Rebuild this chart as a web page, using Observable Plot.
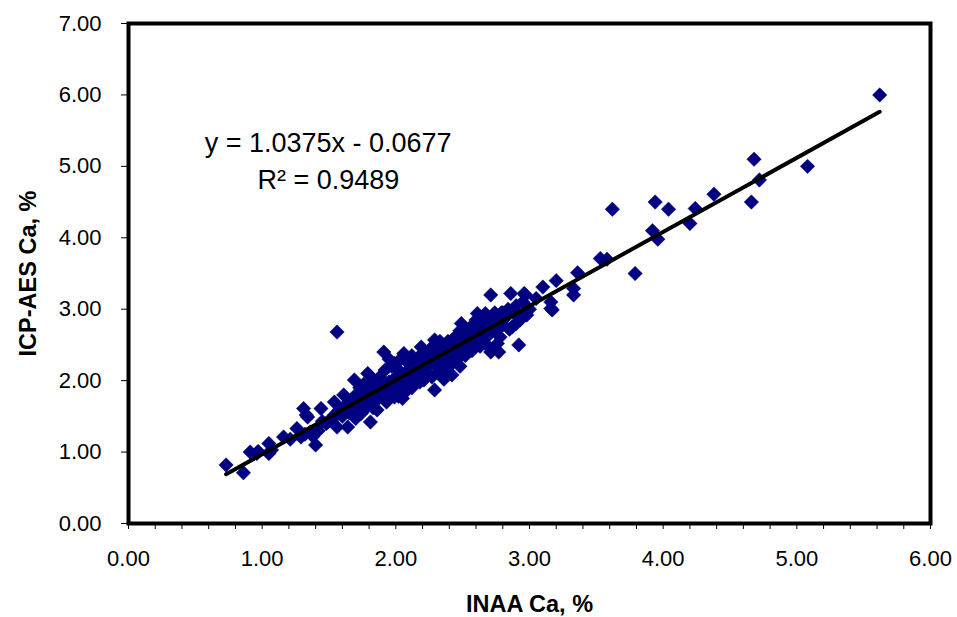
<!DOCTYPE html>
<html>
<head>
<meta charset="utf-8">
<script src="https://cdn.jsdelivr.net/npm/d3@7"></script>
<script src="https://cdn.jsdelivr.net/npm/@observablehq/plot@0.6"></script>
<style>
  html, body { margin: 0; padding: 0; background: white; }
  #chart { width: 957px; height: 617px; }
</style>
</head>
<body>
<div id="chart"></div>
<script>
// INAA Ca, % (x) and ICP-AES Ca, % (y)
const inaaCa = [
  0.73,0.86,0.91,0.96,0.97,1.05,1.05,1.07,1.16,1.21,1.26,1.29,1.31,1.33,1.34,1.32,1.36,1.38,1.40,1.42,1.44,1.45,1.48,1.49,
  1.52,1.54,1.54,1.56,1.56,1.58,1.60,1.61,1.62,1.64,1.65,1.66,1.68,1.69,1.70,1.70,1.72,1.73,1.74,1.75,1.77,1.78,1.79,1.80,
  1.81,1.82,1.83,1.84,1.85,1.86,1.87,1.88,1.89,1.90,1.91,1.92,1.93,1.94,1.95,1.96,1.97,1.98,1.99,1.99,
  2.00,2.01,2.02,2.03,2.04,2.05,2.06,2.06,2.07,2.08,2.09,2.10,2.11,2.12,2.13,2.14,2.15,2.16,2.17,2.18,2.19,2.20,
  2.21,2.22,2.23,2.24,2.25,2.26,2.27,2.28,2.29,2.29,2.30,2.31,2.32,2.33,2.34,2.35,2.36,2.37,2.38,2.39,2.40,2.41,
  2.42,2.43,2.44,2.45,2.46,2.47,2.48,2.49,2.50,
  2.51,2.52,2.53,2.54,2.55,2.56,2.57,2.58,2.59,2.60,2.61,2.62,2.63,2.64,2.65,2.66,2.67,2.67,2.68,2.69,2.70,2.71,
  2.71,2.71,2.72,2.73,2.74,2.75,2.76,2.77,2.78,2.79,2.80,2.82,2.84,2.85,2.86,2.87,2.88,2.90,2.92,2.93,2.95,2.96,
  2.96,2.97,2.98,3.00,
  3.05,3.10,3.16,3.17,3.16,3.20,3.33,3.33,3.36,3.53,3.58,3.62,3.79,3.92,3.94,3.96,4.04,4.20,4.24,4.38,4.66,4.68,
  4.72,5.08,5.62,
  1.76,1.83,1.95,2.02,2.08,2.12,2.18,2.26,2.33,2.40,2.45,2.52,2.58,2.62,2.66,2.74,2.80,2.90,2.48,2.36
];
const icpCa = [
  0.82,0.71,1.00,0.98,1.01,1.12,0.98,1.03,1.21,1.18,1.33,1.21,1.61,1.52,1.49,1.25,1.28,1.22,1.10,1.30,1.61,1.43,1.40,1.42,
  1.45,1.70,1.52,1.35,2.68,1.60,1.50,1.80,1.65,1.35,1.55,1.70,1.62,2.01,1.47,1.80,1.68,1.90,1.54,1.75,1.85,1.62,2.10,1.95,
  1.42,1.70,1.80,2.00,1.88,1.59,1.75,2.05,1.91,1.80,2.40,2.15,1.70,1.73,1.98,1.88,2.20,1.80,2.24,1.77,
  2.05,1.92,2.15,2.00,2.31,1.75,1.82,2.38,2.10,1.95,2.25,2.05,2.18,1.90,2.30,2.12,2.00,2.22,2.08,2.35,2.47,2.15,
  2.01,2.28,2.20,2.10,2.40,2.25,2.05,2.32,2.57,1.87,2.20,2.45,2.30,2.12,2.38,2.50,2.25,2.42,2.15,2.55,2.35,2.28,
  2.08,2.48,2.60,2.40,2.30,2.52,2.70,2.80,2.45,
  2.60,2.35,2.55,2.68,2.50,2.75,2.42,2.62,2.55,2.85,2.94,2.70,2.48,2.65,2.78,2.60,2.94,2.52,2.72,2.85,2.65,3.20,
  2.80,2.40,2.43,2.90,2.70,2.82,2.52,2.40,2.61,2.95,2.78,2.88,3.00,2.72,3.22,2.75,2.95,3.05,2.50,2.85,3.10,2.92,
  3.22,3.20,2.92,3.00,
  3.15,3.31,3.10,2.99,3.01,3.40,3.20,3.29,3.51,3.71,3.70,4.40,3.50,4.10,4.50,3.98,4.40,4.20,4.41,4.61,4.50,5.10,
  4.81,5.00,6.00,
  1.95,1.62,2.30,1.78,2.28,2.35,1.98,2.45,2.55,2.20,2.62,2.72,2.45,2.82,2.88,2.95,2.95,2.80,2.20,2.02
];

// Trendline as reported on the chart
const slope = 1.0375;
const intercept = -0.0677;
const equationLabel = "y = 1.0375x - 0.0677";
const r2Label = "R\u00B2 = 0.9489";

const xTicks = [0, 1, 2, 3, 4, 5, 6];
const xMinorTicks = [0.2,0.4,0.6,0.8,1.2,1.4,1.6,1.8,2.2,2.4,2.6,2.8,3.2,3.4,3.6,3.8,4.2,4.4,4.6,4.8,5.2,5.4,5.6,5.8];
const yTicks = [0, 1, 2, 3, 4, 5, 6, 7];
const xTitle = "INAA Ca, %";
const yTitle = "ICP-AES Ca, %";

const points = inaaCa.map((x, i) => ({x, y: icpCa[i]}));
const xmin = d3.min(inaaCa), xmax = d3.max(inaaCa);
const trend = [xmin, xmax].map(x => ({x, y: slope * x + intercept}));

const fmt = d3.format(".2f");
const font = "'Liberation Sans', Arial, Helvetica, sans-serif";

const chart = Plot.plot({
  width: 957,
  height: 617,
  marginLeft: 128,
  marginRight: 27,
  marginTop: 23,
  marginBottom: 94,
  x: {domain: [0, 6]},
  y: {domain: [0, 7]},
  style: {fontFamily: font, fontSize: "22px", background: "white", color: "black"},
  marks: [
    Plot.axisX(xMinorTicks, {tickSize: 6, tickFormat: () => "", label: null, stroke: "black"}),
    Plot.axisX(xTicks, {tickSize: 6, tickPadding: 21, tickFormat: fmt, label: null, fontSize: 22, stroke: "black"}),
    Plot.axisY(yTicks, {tickSize: 7, tickPadding: 20, tickFormat: fmt, label: null, fontSize: 22, stroke: "black"}),
    Plot.dot(points, {x: "x", y: "y", symbol: "diamond2", r: 6.5, fill: "#000080", stroke: "#000080", strokeWidth: 0.5}),
    Plot.line(trend, {x: "x", y: "y", stroke: "black", strokeWidth: 4}),
    Plot.frame({stroke: "black", strokeWidth: 4}),
    Plot.text([equationLabel], {x: 0.57, y: 5.32, textAnchor: "start", fontSize: 27, fill: "black"}),
    Plot.text([r2Label], {x: 0.965, y: 4.81, textAnchor: "start", fontSize: 27, fill: "black"}),
    Plot.text([xTitle], {frameAnchor: "bottom", dy: 81, textAnchor: "middle", lineAnchor: "middle", fontSize: 23.5, fontWeight: "bold", fill: "black"}),
    Plot.text([yTitle], {frameAnchor: "left", dx: -100, rotate: -90, textAnchor: "middle", lineAnchor: "middle", fontSize: 23.5, fontWeight: "bold", fill: "black"})
  ]
});
document.getElementById("chart").appendChild(chart);
</script>
</body>
</html>
